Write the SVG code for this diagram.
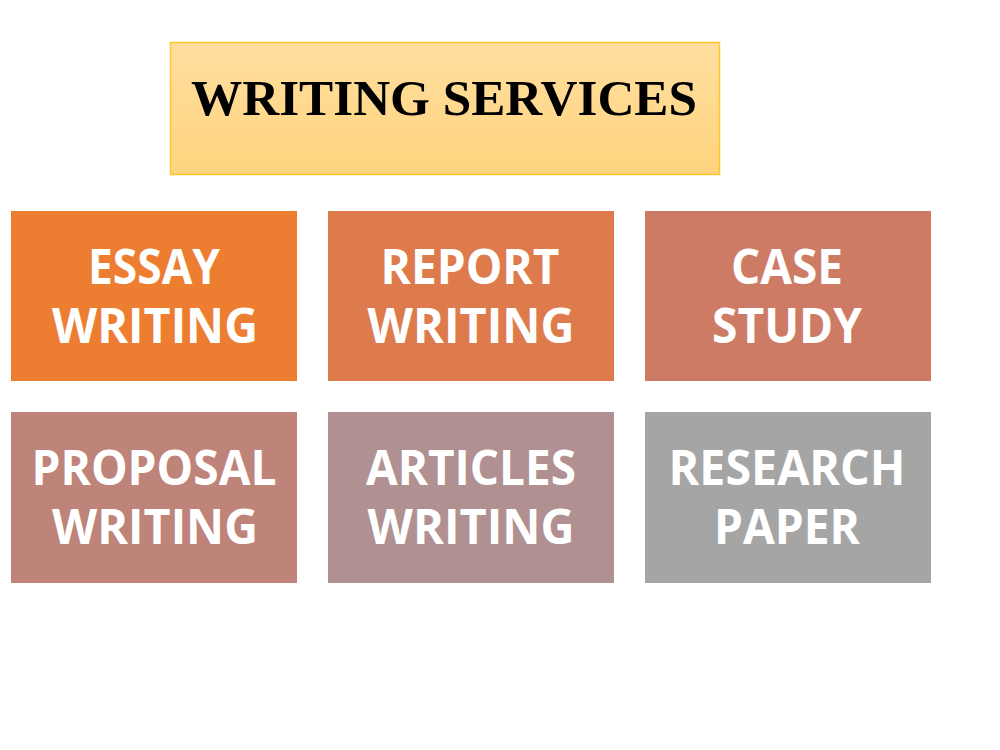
<svg xmlns="http://www.w3.org/2000/svg" width="1000" height="750" viewBox="0 0 1000 750">
<defs>
<linearGradient id="tg" x1="0" y1="0" x2="0" y2="1">
<stop offset="0" stop-color="#FFDE9F"/>
<stop offset="1" stop-color="#FFD47E"/>
</linearGradient>
<style>
.lbl{font-family:"Open Sans","Liberation Sans",sans-serif;font-weight:bold;font-size:49px;fill:#FFFFFF;text-anchor:middle}
.title{font-family:"Liberation Serif","Times New Roman",serif;font-weight:bold;font-size:51px;fill:#000000;text-anchor:middle}
</style>
</defs>
<rect width="1000" height="750" fill="#FFFFFF"/>
<g id="title">
<rect x="170.5" y="42.5" width="549" height="132" fill="url(#tg)" stroke="#FFC72C" stroke-width="1.5"/>
<text class="title" x="444" y="115" textLength="506" lengthAdjust="spacingAndGlyphs">WRITING SERVICES</text>
</g>
<g id="essay">
<rect x="11" y="211" width="286" height="170" fill="#ED7D31"/>
<text class="lbl" x="154" y="284" textLength="132" lengthAdjust="spacingAndGlyphs">ESSAY</text>
<text class="lbl" x="155" y="343" textLength="206" lengthAdjust="spacingAndGlyphs">WRITING</text>
</g>
<g id="report">
<rect x="328" y="211" width="286" height="170" fill="#DE7B4C"/>
<text class="lbl" x="470" y="284" textLength="179" lengthAdjust="spacingAndGlyphs">REPORT</text>
<text class="lbl" x="471" y="343" textLength="207" lengthAdjust="spacingAndGlyphs">WRITING</text>
</g>
<g id="case">
<rect x="645" y="211" width="286" height="170" fill="#CE7B66"/>
<text class="lbl" x="787" y="284" textLength="112" lengthAdjust="spacingAndGlyphs">CASE</text>
<text class="lbl" x="787" y="343" textLength="150" lengthAdjust="spacingAndGlyphs">STUDY</text>
</g>
<g id="proposal">
<rect x="11" y="412" width="286" height="171" fill="#BE8379"/>
<text class="lbl" x="154" y="485" textLength="245" lengthAdjust="spacingAndGlyphs">PROPOSAL</text>
<text class="lbl" x="155" y="544" textLength="206" lengthAdjust="spacingAndGlyphs">WRITING</text>
</g>
<g id="articles">
<rect x="328" y="412" width="286" height="171" fill="#B09090"/>
<text class="lbl" x="471" y="485" textLength="210" lengthAdjust="spacingAndGlyphs">ARTICLES</text>
<text class="lbl" x="471" y="544" textLength="207" lengthAdjust="spacingAndGlyphs">WRITING</text>
</g>
<g id="research">
<rect x="645" y="412" width="286" height="171" fill="#A5A5A5"/>
<text class="lbl" x="787" y="485" textLength="237" lengthAdjust="spacingAndGlyphs">RESEARCH</text>
<text class="lbl" x="787" y="544" textLength="146" lengthAdjust="spacingAndGlyphs">PAPER</text>
</g>
<g id="connectors"></g>
</svg>
